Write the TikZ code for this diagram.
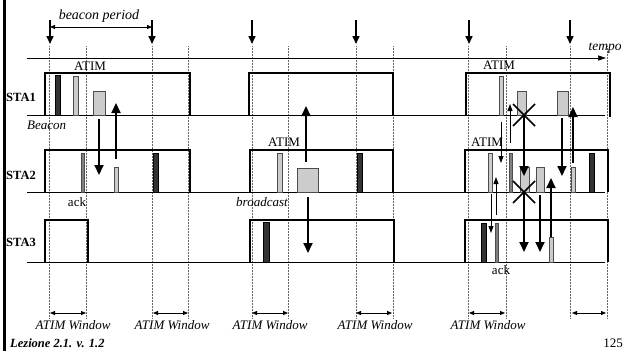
\documentclass[tikz,border=0pt]{standalone}
\usepackage{fontspec}
\setmainfont{Liberation Serif}
\usetikzlibrary{arrows.meta}
\begin{document}
\begin{tikzpicture}[x=1pt,y=-1pt,
  lbl/.style={inner sep=0pt,font=\fontsize{13}{15}\selectfont},
  ilbl/.style={inner sep=0pt,font=\fontsize{13}{15}\selectfont\itshape},
  sta/.style={inner sep=0pt,font=\fontsize{12.5}{15}\selectfont\bfseries},
  pulse/.style={line width=1.2pt},
  baseln/.style={line width=0.6pt},
  guide/.style={densely dotted,line width=0.5pt,black!60},
  beaconarr/.style={line width=1.6pt,-{Triangle[length=8pt,width=7pt]}},
  msg/.style={line width=1.8pt,-{Triangle[length=10pt,width=9pt]}},
  thinmsg/.style={line width=0.9pt,-{Triangle[length=7pt,width=5pt]}},
  dim/.style={line width=0.8pt,{Triangle[length=5pt,width=4pt]}-{Triangle[length=5pt,width=4pt]}},
  darkbar/.style={fill=black!80,draw=black,line width=0.5pt},
  medbar/.style={fill=black!50,draw=black!70,line width=0.5pt},
  lightbar/.style={fill=black!20,draw=black!70,line width=0.5pt},
  crossln/.style={line width=1.6pt}
]
\useasboundingbox (0,0) rectangle (624,351);
\fill[white] (0,0) rectangle (624,351);
% left thick bar
\fill[black] (3,0) rectangle (6,351);

% guides
\foreach \gx in {49,86,152,188,252,288,356,393,468,506,570,607}
  \draw[guide] (\gx,46) -- (\gx,318);

% beacon arrows
\foreach \bx in {50,152,252,356,469,570}
  \draw[beaconarr] (\bx,20) -- (\bx,44);

% beacon period
\coordinate (bp1) at (50,27);
\coordinate (bp2) at (152,27);
\draw[dim] (bp1) -- (bp2);
\node[inner sep=0pt,font=\fontsize{14}{16}\selectfont\itshape] (bptxt) at (99,16) {beacon period};

% time axis
\coordinate (t0) at (27,58);
\coordinate (t1) at (606,58);
\draw[line width=0.6pt,-{Triangle[length=8pt,width=5pt]}] (t0) -- (t1);
\node[inner sep=0pt,font=\fontsize{13.5}{16}\selectfont\itshape] (tempo) at (605,48) {tempo};

% baselines
\foreach \by in {115,192,262}
  \draw[baseln] (27,\by) -- (605,\by);

% station labels
\node[sta] (s1) at (21,97) {STA1};
\node[sta] (s2) at (21,175) {STA2};
\node[sta] (s3) at (21,242) {STA3};

% awake pulses
\draw[pulse] (45,115) |- (190,73) -- (190,115);
\draw[pulse] (249,115) |- (393,73) -- (393,115);
\draw[pulse] (466,115) |- (610,73) -- (610,117);
\draw[pulse] (45,192) |- (190,150) -- (190,192);
\draw[pulse] (250,192) |- (393,150) -- (393,192);
\draw[pulse] (465,192) |- (608,150) -- (608,192);
\draw[pulse] (45,262) |- (88,220) -- (88,262);
\draw[pulse] (250,262) |- (394,220) -- (394,262);
\draw[pulse] (465,262) |- (608,220) -- (608,262);

% ---- period 1
\draw[darkbar] (55,75) rectangle (60,115);
\draw[lightbar] (73,76) rectangle (78,115);
\draw[lightbar] (93,91) rectangle (105,115);
\draw[medbar] (81,153) rectangle (84,192);
\draw[lightbar] (114,167) rectangle (118,192);
\draw[darkbar] (153,153) rectangle (158,192);
\draw[msg] (99,119) -- (99,175);
\draw[msg] (116,159) -- (116,103);
\node[lbl] (atim1) at (90,66) {ATIM};
\node[ilbl,anchor=west] (beacon) at (27,125) {Beacon};
\node[lbl] (ack1) at (77,202) {ack};

% ---- period 2
\draw[lightbar] (277,153) rectangle (282,192);
\draw[lightbar] (297,168) rectangle (318,192);
\draw[darkbar] (357,153) rectangle (362,192);
\draw[darkbar] (263,222) rectangle (269,262);
\draw[msg] (306,162) -- (306,106);
\draw[msg] (308,197) -- (308,253);
\node[lbl] (atim2) at (284,142) {ATIM};
\node[ilbl] (bcast) at (262,202) {broadcast};

% ---- period 3
\draw[lightbar] (499,76) rectangle (503,115);
\draw[lightbar] (517,91) rectangle (526,115);
\draw[lightbar] (557,91) rectangle (568,115);
\node[lbl] (atim3) at (499,65) {ATIM};
\draw[lightbar] (488,153) rectangle (492,192);
\draw[medbar] (509,153) rectangle (512,192);
\draw[lightbar] (520,167) rectangle (529,192);
\draw[lightbar] (536,167) rectangle (544,192);
\draw[lightbar] (571,167) rectangle (575,192);
\draw[darkbar] (589,153) rectangle (594,192);
\node[lbl] (atim4) at (487,142) {ATIM};
\draw[darkbar] (481,223) rectangle (486,262);
\draw[medbar] (495,223) rectangle (498,262);
\draw[lightbar] (549,237) rectangle (553,262);
\node[lbl] (ack2) at (501,270) {ack};

\draw[thinmsg] (510,143) -- (510,104);
\draw[thinmsg] (501,122) -- (501,163);
\draw[msg] (524,115) -- (524,176);
\draw[msg] (562,118) -- (562,176);
\draw[msg] (573,163) -- (573,107);
\draw[msg] (551,237) -- (551,178);
\draw[thinmsg] (496,215) -- (496,177);
\draw[thinmsg] (491,194) -- (491,233);
\draw[msg] (524,192) -- (524,252);
\draw[msg] (540,195) -- (540,252);

% crosses
\draw[crossln] (513,104) -- (535,126) (513,126) -- (535,104);
\draw[crossln] (513,181) -- (535,203) (513,203) -- (535,181);

% ATIM windows
\foreach \ax/\bx in {50/86,153/188,252/288,356/392,469/505,572/606}
  \draw[dim] (\ax,313) -- (\bx,313);
\foreach \cx in {73,172,270,375,488}
  \node[ilbl] at (\cx,325) {ATIM Window};

% footer
\node[inner sep=0pt,anchor=base west,font=\fontsize{12.5}{15}\selectfont\bfseries\itshape] (lez) at (10,347) {Lezione 2.1. v. 1.2};
\node[inner sep=0pt,anchor=base east,font=\fontsize{13}{15}\selectfont] (pg) at (623,347) {125};
\end{tikzpicture}
\end{document}
